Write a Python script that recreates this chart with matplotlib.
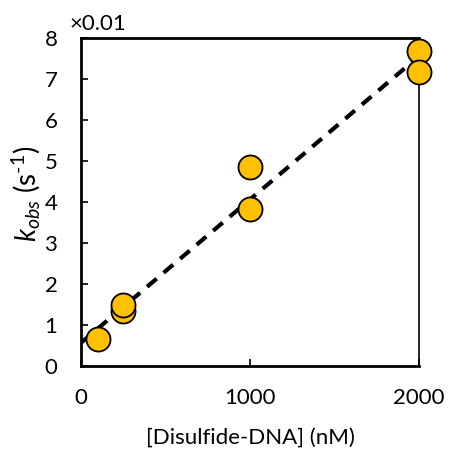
import numpy as np
import matplotlib.pyplot as plt

plt.rcParams['font.family'] = ['Lato', 'DejaVu Sans']
plt.rcParams['mathtext.fontset'] = 'custom'
plt.rcParams['mathtext.rm'] = 'Lato'
plt.rcParams['mathtext.it'] = 'Lato:italic'

# disulfide-DNA concentration (nM) and observed rate (x0.01 s^-1)
conc = [100, 250, 250, 1000, 1000, 2000, 2000]
kobs = [0.67, 1.35, 1.48, 4.85, 3.82, 7.68, 7.18]

slope, intercept = np.polyfit(conc, kobs, 1)
x_ = np.array([0, 2000])

fig = plt.figure(figsize=(4.49, 4.5), dpi=100)
ax = fig.add_axes([81/449, 84/450, 338/449, 328/450])

ax.plot(x_, slope*x_ + intercept, 'k--', lw=3, dashes=(3, 2.2), zorder=2)
ax.scatter(conc, kobs, s=300, c='#FFC000', edgecolors='black', linewidths=1.3,
           zorder=3, clip_on=False)

ax.set_xlim(0, 2000)
ax.set_ylim(0, 8)
ax.set_xticks([0, 1000, 2000])
ax.set_yticks(range(0, 9))
ax.tick_params(direction='in', length=5, width=1.2, labelsize=16)
ax.tick_params(axis='y', pad=17)
ax.tick_params(axis='x', pad=16)
for side in ['left', 'bottom', 'top']:
    ax.spines[side].set_linewidth(2)
ax.spines['right'].set_linewidth(1.2)

ax.set_xlabel('[Disulfide-DNA] (nM)', fontsize=16, labelpad=14)
ax.set_ylabel(r'$k_{obs}$ (s$^{\text{-}1}$)', fontsize=20)
ax.yaxis.set_label_coords(-0.112, 0.525)
ax.text(-0.035, 1.012, '×0.01', transform=ax.transAxes, fontsize=16,
        ha='left', va='bottom')

fig.savefig('out.png', dpi=100)
